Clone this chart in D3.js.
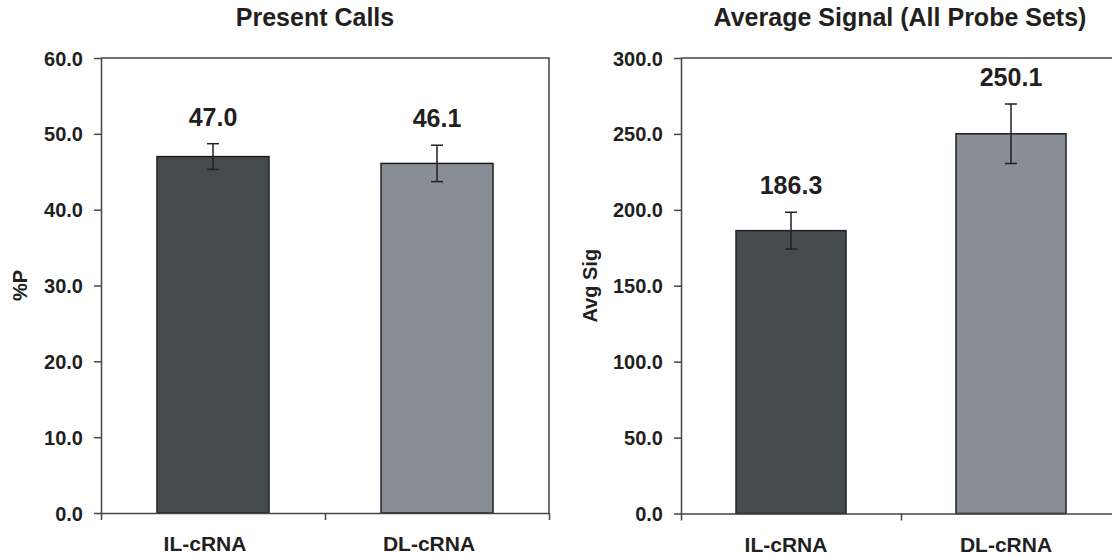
<!DOCTYPE html>
<html>
<head>
<meta charset="utf-8">
<script src="https://cdn.jsdelivr.net/npm/d3@7"></script>
<style>
	body { margin: 0; background: #fff; }
	text { font-family: "Liberation Sans", Arial, sans-serif; font-weight: bold; fill: #231f20; }
</style>
</head>
<body>
<svg></svg>
<script>
const size = { w: 1112, h: 556 };

// data
const categories = ["IL-cRNA", "DL-cRNA"];
const presentCalls = [47.0, 46.1];
const presentErr = [1.7, 2.4];
const avgSignal = [186.3, 250.1];
const avgErr = [12.1, 19.6];
const pTicks = [0, 10, 20, 30, 40, 50, 60];
const sigTicks = [0, 50, 100, 150, 200, 250, 300];
const barColors = ["#454c4e", "#878e95"];

const svg = d3.select("svg").attr("width", size.w).attr("height", size.h);

function drawPanel(p) {
	const g = svg.append("g");

	let x = d3
		.scaleBand()
		.domain(categories)
		.range([p.l, p.r])
		.paddingInner(0.5)
		.paddingOuter(0.25);
	let y = d3.scaleLinear().domain([0, p.max]).range([p.b, p.t]);

	// frame (top + right)
	g.append("path")
		.attr("d", `M${p.l},${p.t}H${p.r}V${p.b}`)
		.attr("fill", "none")
		.attr("stroke", "#444")
		.attr("stroke-width", 1.5);

	// bars
	g.selectAll("rect.bar")
		.data(p.values)
		.join("rect")
		.classed("bar", true)
		.attr("x", (d, i) => x(categories[i]))
		.attr("y", (d) => y(d))
		.attr("width", x.bandwidth())
		.attr("height", (d) => y(0) - y(d))
		.attr("fill", (d, i) => barColors[i])
		.attr("stroke", "#231f20")
		.attr("stroke-width", 1.5);

	// error bars
	let eg = g
		.selectAll("g.err")
		.data(p.values)
		.join("g")
		.classed("err", true)
		.attr("stroke", "#231f20")
		.attr("stroke-width", 1.5);
	let cx = (i) => x(categories[i]) + x.bandwidth() / 2;
	eg.append("line")
		.attr("x1", (d, i) => cx(i))
		.attr("x2", (d, i) => cx(i))
		.attr("y1", (d, i) => y(d + p.errs[i]))
		.attr("y2", (d, i) => y(d - p.errs[i]));
	[1, -1].forEach((s) => {
		eg.append("line")
			.attr("x1", (d, i) => cx(i) - 6)
			.attr("x2", (d, i) => cx(i) + 6)
			.attr("y1", (d, i) => y(d + s * p.errs[i]))
			.attr("y2", (d, i) => y(d + s * p.errs[i]));
	});

	// value labels
	g.selectAll("text.val")
		.data(p.values)
		.join("text")
		.classed("val", true)
		.attr("x", (d, i) => cx(i))
		.attr("y", (d, i) => y(d + p.errs[i]) - 18)
		.attr("text-anchor", "middle")
		.style("font-size", "25px")
		.text((d) => d.toFixed(1));

	// y axis
	let yAxis = g
		.append("g")
		.attr("transform", `translate(${p.l},0)`)
		.call(
			d3
				.axisLeft(y)
				.tickValues(p.ticks)
				.tickFormat(d3.format(".1f"))
				.tickSize(7)
				.tickSizeOuter(0)
				.tickPadding(11)
		);
	yAxis.selectAll("path, line").attr("stroke", "#444").attr("stroke-width", 1.5);
	yAxis.selectAll("text").style("font-size", "20px").attr("dy", "0.35em");

	// x axis: ticks at category boundaries
	let xb = d3.scaleLinear().domain([0, categories.length]).range([p.l, p.r]);
	let xAxis = g
		.append("g")
		.attr("transform", `translate(0,${p.b})`)
		.call(
			d3
				.axisBottom(xb)
				.tickValues(d3.range(categories.length + 1))
				.tickFormat("")
				.tickSize(7)
				.tickSizeOuter(0)
		);
	xAxis.selectAll("path, line").attr("stroke", "#444").attr("stroke-width", 1.5);

	g.selectAll("text.cat")
		.data(categories)
		.join("text")
		.classed("cat", true)
		.attr("x", (d) => x(d) + x.bandwidth() / 2 + p.catDx)
		.attr("y", p.b + 38)
		.attr("text-anchor", "middle")
		.style("font-size", "21px")
		.text((d) => d);

	// titles
	g.append("text")
		.attr("x", p.titleX)
		.attr("y", 26)
		.attr("text-anchor", "middle")
		.style("font-size", "25px")
		.text(p.title);

	g.append("text")
		.attr("transform", `translate(${p.yLabelX},${(p.t + p.b) / 2}) rotate(-90)`)
		.attr("text-anchor", "middle")
		.attr("dy", "0.35em")
		.style("font-size", "20px")
		.text(p.yLabel);
}

drawPanel({
	l: 101, r: 549, t: 58, b: 513,
	max: 60, ticks: pTicks,
	values: presentCalls, errs: presentErr,
	title: "Present Calls", titleX: 315,
	yLabel: "%P", yLabelX: 20, catDx: -8
});

drawPanel({
	l: 681, r: 1121, t: 58, b: 513.5,
	max: 300, ticks: sigTicks,
	values: avgSignal, errs: avgErr,
	title: "Average Signal (All Probe Sets)", titleX: 900,
	yLabel: "Avg Sig", yLabelX: 590, catDx: -5
});
</script>
</body>
</html>
